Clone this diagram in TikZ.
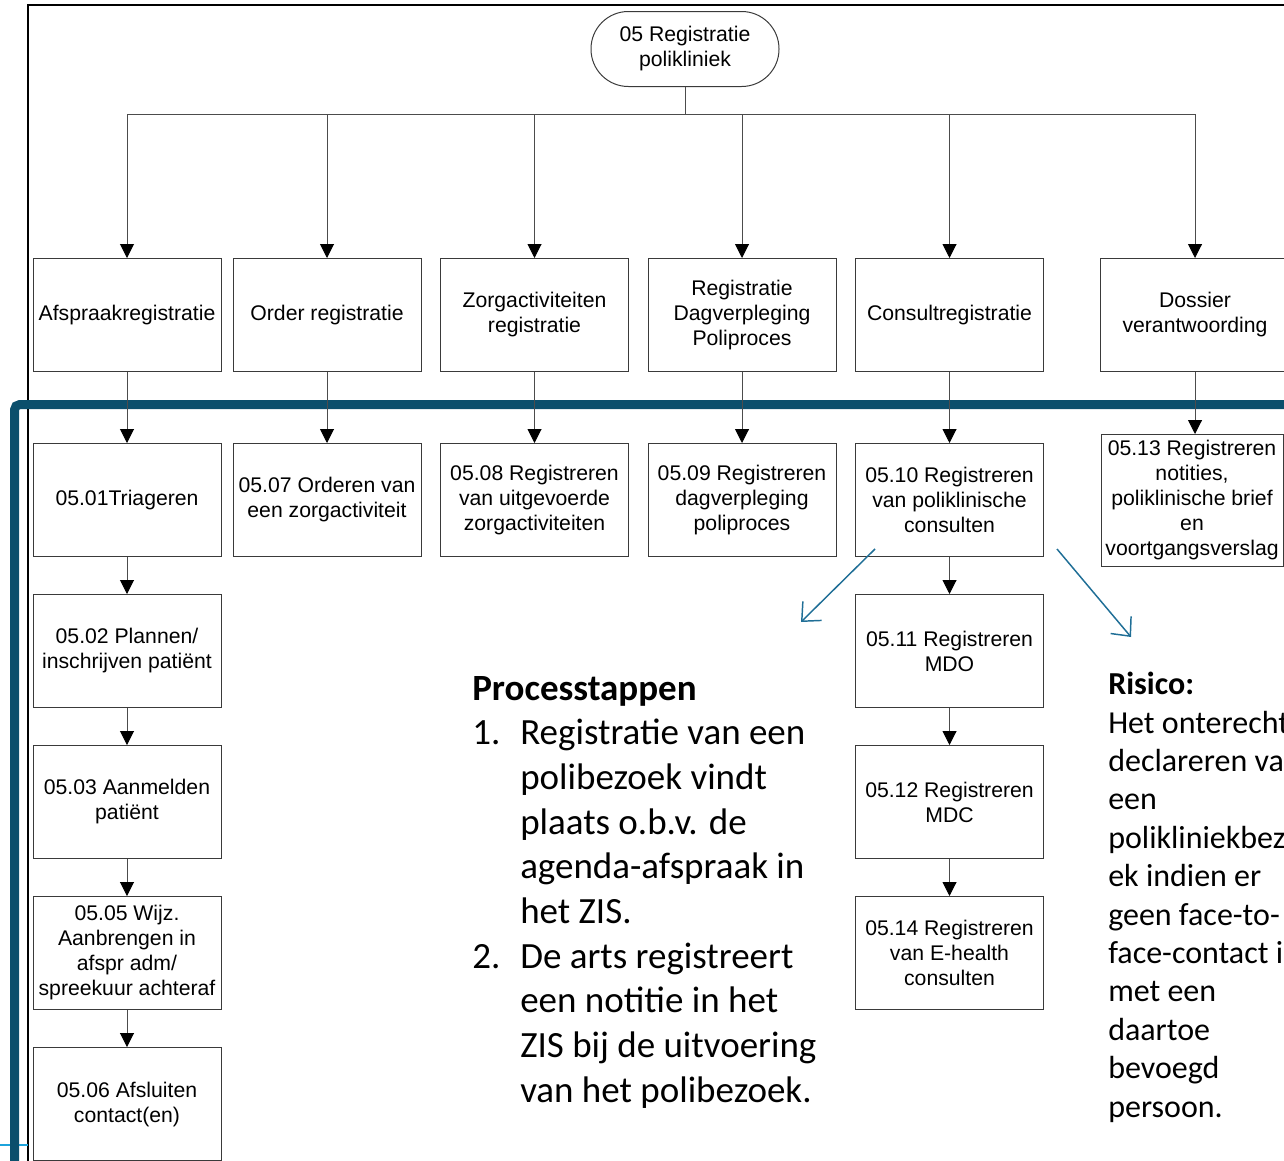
\documentclass[tikz,border=0pt]{standalone}
\usepackage{fontspec}
\setmainfont{Liberation Sans}
\newfontfamily\calibri{Carlito}
\usetikzlibrary{arrows.meta}
\definecolor{frameblue}{HTML}{0B4F6C}
\definecolor{noteblue}{HTML}{1F6E96}
\definecolor{lightblue}{HTML}{1CA3DC}
\definecolor{boxline}{HTML}{3A3A3A}

\begin{document}
\begin{tikzpicture}[x=0.75pt, y=-0.75pt,
  box/.style={draw=boxline, line width=0.75pt, minimum width=141pt,
    minimum height=84.75pt, align=center, inner sep=1pt,
    font=\fontsize{15.9pt}{18.75pt}\selectfont},
  conn/.style={draw=black!70, line width=0.75pt,
    -{Triangle[width=10.5pt,length=10.5pt,color=black]}},
  note/.style={draw=noteblue, line width=1.1pt,
    -{Straight Barb[length=11pt,width=20pt]}},
  txt/.style={anchor=base west, inner sep=0pt, align=left}]
  \useasboundingbox (0,0) rectangle (1284,1160);

  % Frames
  \draw[black, line width=1.5pt] (28,1175) -- (28,5) -- (1300,5);
  \draw[lightblue, line width=1.5pt] (-5,1145) -- (28,1145);
  \draw[frameblue, line width=6.75pt, rounded corners=4pt]
     (14.5,1175) -- (14.5,404.5) -- (1300,404.5);

  % Top
  \node[box, minimum height=56.25pt, rounded corners=28pt] (top) at (685,49)
     {05 Registratie\\polikliniek};
  \coordinate (bus) at (685,114);

  % Row 1
  \node[box] (afs) at (127,315) {Afspraakregistratie};
  \node[box] (ord) at (327,315) {Order registratie};
  \node[box] (zorg) at (534.5,315) {Zorgactiviteiten\\registratie};
  \node[box] (dag) at (742,315) {Registratie\\Dagverpleging\\Poliproces};
  \node[box] (cons) at (949.5,315) {Consultregistratie};
  \node[box, minimum width=142.5pt] (dos) at (1195,315) {Dossier\\verantwoording};

  % Row 2
  \node[box] (n01) at (127,500) {05.01Triageren};
  \node[box] (n07) at (327,500) {05.07 Orderen van\\een zorgactiviteit};
  \node[box] (n08) at (534.5,500) {05.08 Registreren\\van uitgevoerde\\zorgactiviteiten};
  \node[box] (n09) at (742,500) {05.09 Registreren\\dagverpleging\\poliproces};
  \node[box] (n10) at (949.5,500) {05.10 Registreren\\van poliklinische\\consulten};
  \node[box, minimum width=136.5pt, minimum height=99pt] (n13) at (1192,500.5)
     {05.13 Registreren\\notities,\\poliklinische brief\\en\\voortgangsverslag};

  % Column left
  \node[box] (n02) at (127,651) {05.02 Plannen/\\inschrijven patiënt};
  \node[box] (n03) at (127,802) {05.03 Aanmelden\\patiënt};
  \node[box] (n05) at (127,953) {05.05 Wijz.\\Aanbrengen in\\afspr adm/\\spreekuur achteraf};
  \node[box] (n06) at (127,1104) {05.06 Afsluiten\\contact(en)};

  % Column right
  \node[box] (n11) at (949.5,651) {05.11 Registreren\\MDO};
  \node[box] (n12) at (949.5,802) {05.12 Registreren\\MDC};
  \node[box] (n14) at (949.5,953) {05.14 Registreren\\van E-health\\consulten};

  % Connectors
  \foreach \n in {afs,ord,zorg,dag,cons,dos}
    \draw[conn] (top.south) -- (top.south |- bus) -| (\n.north);
  \foreach \a/\b in {afs/n01,ord/n07,zorg/n08,dag/n09,cons/n10,
                     n01/n02,n02/n03,n03/n05,n05/n06,
                     n10/n11,n11/n12,n12/n14}
    \draw[conn] (\a) -- (\b);
  \draw[conn] (dos.south) -- (dos.south |- n13.north);

  % Blue pointers
  \coordinate (lfrom) at ([shift={(20,-8)}]n10.south west);
  \coordinate (lto) at (801,622);
  \coordinate (rfrom) at ([shift={(13,-8)}]n10.south east);
  \coordinate (rto) at (1131,637);
  \draw[note] (lfrom) -- (lto);
  \draw[note] (rfrom) -- (rto);

  % Text
  \node[txt, font=\calibri\fontsize{27.75pt}{33.5pt}\selectfont] (steps) at (472,1102)
    {\textbf{Processtappen}\\
     \makebox[36pt][l]{1.}Registratie van een\\
     \hspace*{36pt}polibezoek vindt\\
     \hspace*{36pt}plaats o.b.v. de\\
     \hspace*{36pt}agenda-afspraak in\\
     \hspace*{36pt}het ZIS.\\
     \makebox[36pt][l]{2.}De arts registreert\\
     \hspace*{36pt}een notitie in het\\
     \hspace*{36pt}ZIS bij de uitvoering\\
     \hspace*{36pt}van het polibezoek.};
  \node[txt, font=\calibri\fontsize{24pt}{28.8pt}\selectfont] (risk) at (1108,1117)
    {\textbf{Risico:}\\
     Het onterecht\\
     declareren van\\
     een\\
     polikliniekbezo\\
     ek indien er\\
     geen face-to-\\
     face-contact is\\
     met een\\
     daartoe\\
     bevoegd\\
     persoon.};
\end{tikzpicture}
\end{document}
